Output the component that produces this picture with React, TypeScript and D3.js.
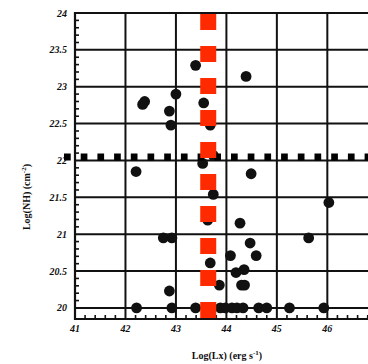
import React from "react";
import * as d3 from "d3";

const W = 368;
const H = 364;

const xMajorTicks = [41, 42, 43, 44, 45, 46];
const xTickLabels = ["41", "42", "43", "44", "45", "46"];
const yMajorTicks = [20, 20.5, 21, 21.5, 22, 22.5, 23, 23.5, 24];
const yTickLabels = ["20", "20.5", "21", "21.5", "22", "22.5", "23", "23.5", "24"];

// Log(Lx), Log(NH) of sources
const lxValues = [
  43.39, 44.39, 42.38, 42.34, 43.0, 42.87, 42.9, 43.55, 43.68, 43.53, 43.74,
  42.21, 44.49, 43.74, 46.03, 43.63, 44.27, 42.75, 42.92, 45.63, 44.47, 44.59,
  44.08, 43.68, 44.35, 44.19, 44.3, 44.36, 43.86, 42.87,
  42.22, 42.92, 43.39, 43.65, 43.88, 43.98, 44.11, 44.21, 44.33, 44.64, 44.8,
  45.25, 45.93,
];
const nhValues = [
  23.29, 23.14, 22.8, 22.76, 22.9, 22.67, 22.48, 22.78, 22.48, 21.96, 22.07,
  21.85, 21.82, 21.54, 21.43, 21.19, 21.15, 20.95, 20.95, 20.95, 20.88, 20.71,
  20.71, 20.61, 20.52, 20.48, 20.31, 20.31, 20.31, 20.23,
  20.0, 20.0, 20.0, 20.0, 20.0, 20.0, 20.0, 20.0, 20.0, 20.0, 20.0,
  20.0, 20.0,
];
const lxThreshold = [43.64];
const nhThreshold = [22];

export default function App() {
  const x = d3.scaleLinear().domain([41, 46.8]).range([75, 367.7]);
  const y = d3.scaleLinear().domain([19.85, 24]).range([319, 13]);

  const xMinor = d3.range(41, 46.81, 0.2).filter((v) => Math.abs(v - Math.round(v)) > 0.01);
  const yMinor = d3.range(20, 24.001, 0.1).filter((v) => Math.abs(v * 2 - Math.round(v * 2)) > 0.01);
  const [x0] = x.range();
  const [yb, yt] = y.range();

  const ink = "#111";
  const tickFont = "'Liberation Serif', serif";

  return (
    <svg
      width={W}
      height={H}
      style={{ position: "absolute", left: 0, top: 0, background: "#fff" }}
    >
      {yMajorTicks.map((v) => (
        <line key={"hy" + v} x1={x0} x2={W} y1={y(v)} y2={y(v)} stroke={ink} strokeWidth={2} />
      ))}
      {xMajorTicks.slice(1).map((v) => (
        <line key={"vx" + v} x1={x(v)} x2={x(v)} y1={yt} y2={yb} stroke={ink} strokeWidth={2} />
      ))}
      <line x1={x0} x2={x0} y1={yt - 1} y2={yb + 1} stroke={ink} strokeWidth={2.2} />
      <line x1={x0 - 1} x2={W} y1={yb} y2={yb} stroke={ink} strokeWidth={2.2} />
      {xMinor.map((v) => (
        <line key={"mx" + v} x1={x(v)} x2={x(v)} y1={yb} y2={yb - 4} stroke={ink} strokeWidth={1.6} />
      ))}
      {yMinor.map((v) => (
        <line key={"my" + v} x1={x0} x2={x0 + 4} y1={y(v)} y2={y(v)} stroke={ink} strokeWidth={1.6} />
      ))}
      {xMajorTicks.map((v, i) => (
        <text
          key={"xl" + v}
          x={x(v)}
          y={yb + 13}
          textAnchor="middle"
          fontFamily={tickFont}
          fontStyle="italic"
          fontWeight="bold"
          fontSize={10}
          fill={ink}
        >
          {xTickLabels[i]}
        </text>
      ))}
      {yMajorTicks.map((v, i) => (
        <text
          key={"yl" + v}
          x={67}
          y={y(v) + 3.5}
          textAnchor="end"
          fontFamily={tickFont}
          fontStyle="italic"
          fontWeight="bold"
          fontSize={10}
          fill={ink}
        >
          {yTickLabels[i]}
        </text>
      ))}
      {lxValues.map((lx, i) => (
        <circle key={"p" + i} cx={x(lx)} cy={y(nhValues[i])} r={5.4} fill={ink} />
      ))}
      {nhThreshold.map((v) => (
        <line
          key={"nh" + v}
          x1={64}
          x2={W}
          y1={y(v) - 3.5}
          y2={y(v) - 3.5}
          stroke="#000"
          strokeWidth={7}
          strokeDasharray="6.7,10"
        />
      ))}
      {lxThreshold.map((v) => (
        <line
          key={"lx" + v}
          x1={x(v)}
          x2={x(v)}
          y1={yt + 1}
          y2={yb}
          stroke="#ff2a00"
          strokeWidth={16}
          strokeDasharray="16,16"
        />
      ))}
      <text
        x={227}
        y={359}
        textAnchor="middle"
        fontFamily={tickFont}
        fontWeight="bold"
        fontSize={10}
        fill={ink}
      >
        Log(Lx) (erg s
        <tspan dy={-4} fontSize={7}>-1</tspan>
        <tspan dy={4}>)</tspan>
      </text>
      <text
        transform={`translate(30,197) rotate(-90)`}
        textAnchor="middle"
        fontFamily={tickFont}
        fontWeight="bold"
        fontSize={10}
        fill={ink}
      >
        Log(NH) (cm
        <tspan dy={-4} fontSize={7}>-2</tspan>
        <tspan dy={4}>)</tspan>
      </text>
    </svg>
  );
}
